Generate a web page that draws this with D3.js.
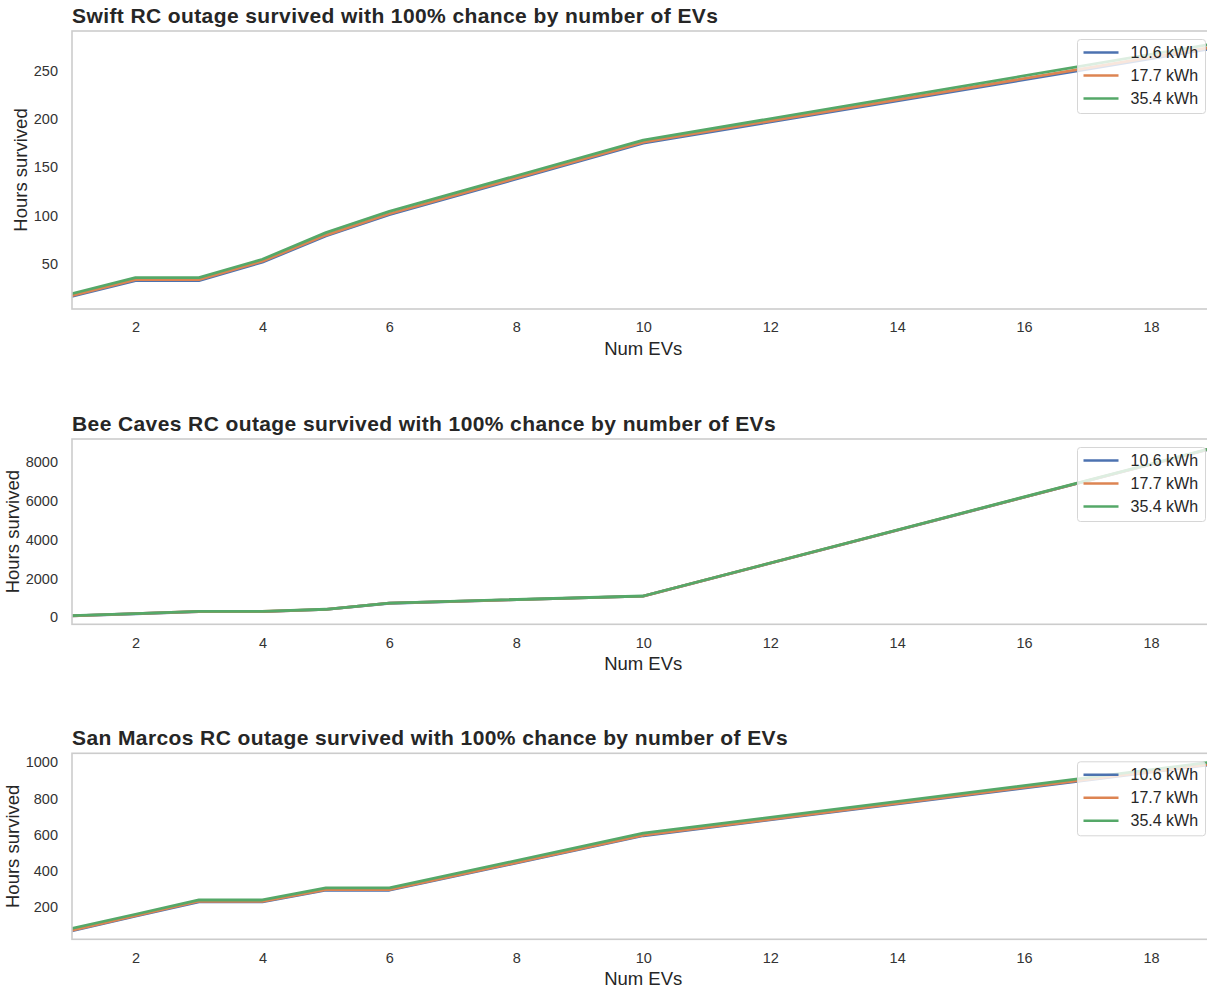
<!DOCTYPE html>
<html>
<head>
<meta charset="utf-8">
<script src="https://cdn.jsdelivr.net/npm/d3@7"></script>
<style>
  html, body { margin: 0; padding: 0; background: #ffffff; }
  svg { display: block; font-family: "Liberation Sans", Arial, sans-serif; }
</style>
</head>
<body>
<svg id="chart" width="1207" height="993"></svg>
<script>
// Number of EVs at which each outage simulation was evaluated
const evCounts = [1, 2, 3, 4, 5, 6, 10, 19];
const batteryLabels = ["10.6 kWh", "17.7 kWh", "35.4 kWh"];
const seriesColors = ["#4c72b0", "#dd8452", "#55a868"];

// Hours survived (100% chance) — Swift RC
const swift106 = [16.7, 33, 33, 52, 79, 101, 175, 273];
const swift177 = [17.5, 34, 34, 53, 80, 102, 176, 274.5];
const swift354 = [19.5, 36, 36, 55, 82.5, 104.5, 178, 277.7];

// Hours survived (100% chance) — Bee Caves RC
const beeCaves106 = [74, 185, 295, 295, 405, 725, 1090, 8745];
const beeCaves177 = [78, 190, 300, 300, 410, 730, 1095, 8755];
const beeCaves354 = [85, 195, 305, 305, 415, 735, 1100, 8769];

// Hours survived (100% chance) — San Marcos RC
const sanMarcos106 = [66, 147, 227, 227, 291, 291, 593, 990];
const sanMarcos177 = [69, 150, 230, 230, 294, 294, 596, 993];
const sanMarcos354 = [80, 158, 237, 237, 304, 304, 607, 1003];

// Axis ticks
const xTicks = [2, 4, 6, 8, 10, 12, 14, 16, 18];
const swiftTicks = [50, 100, 150, 200, 250];
const beeCavesTicks = [0, 2000, 4000, 6000, 8000];
const sanMarcosTicks = [200, 400, 600, 800, 1000];

const panels = [
  { title: "Swift RC outage survived with 100% chance by number of EVs",
    series: [swift106, swift177, swift354], ticks: swiftTicks, top: 31, bottom: 309 },
  { title: "Bee Caves RC outage survived with 100% chance by number of EVs",
    series: [beeCaves106, beeCaves177, beeCaves354], ticks: beeCavesTicks, top: 439, bottom: 624.3 },
  { title: "San Marcos RC outage survived with 100% chance by number of EVs",
    series: [sanMarcos106, sanMarcos177, sanMarcos354], ticks: sanMarcosTicks, top: 753.3, bottom: 939.3 }
];

const svg = d3.select("#chart");
svg.append("rect").attr("width", 1207).attr("height", 993).attr("fill", "#ffffff");

const left = 72, right = 1214.5;
const x = d3.scaleLinear().domain([1, 19]).range([left, right]);

const spineColor = "#cccccc";
const textColor = "#262626";
const tickColor = "#333333";
const tickFont = 14.5;

panels.forEach((p, pi) => {
  const all = p.series.flat();
  const lo = d3.min(all), hi = d3.max(all);
  const pad = (hi - lo) * 0.05;
  const y = d3.scaleLinear().domain([lo - pad, hi + pad]).range([p.bottom, p.top]);

  const g = svg.append("g");

  const clipId = "clip" + pi;
  g.append("clipPath").attr("id", clipId)
    .append("rect").attr("x", left).attr("y", p.top)
    .attr("width", right - left).attr("height", p.bottom - p.top);

  // Title
  g.append("text")
    .attr("x", left).attr("y", p.top - 8.5)
    .attr("font-size", 21).attr("font-weight", "bold")
    .attr("letter-spacing", 0.4)
    .attr("fill", textColor)
    .text(p.title);

  // Y ticks (labels only)
  const yAxis = d3.axisLeft(y).tickValues(p.ticks).tickSize(0).tickPadding(14)
    .tickFormat(d3.format("d"));
  const ya = g.append("g").attr("transform", `translate(${left},0)`).call(yAxis);
  ya.select(".domain").remove();
  ya.selectAll("text").attr("font-size", tickFont).attr("fill", tickColor)
    .attr("font-family", "Liberation Sans, Arial, sans-serif");

  // X ticks (labels only)
  const xAxis = d3.axisBottom(x).tickValues(xTicks).tickSize(0).tickPadding(13)
    .tickFormat(d3.format("d"));
  const xa = g.append("g").attr("transform", `translate(0,${p.bottom})`).call(xAxis);
  xa.select(".domain").remove();
  xa.selectAll("text").attr("font-size", tickFont).attr("fill", tickColor)
    .attr("font-family", "Liberation Sans, Arial, sans-serif");

  // Axis labels; the y label sits clear of the widest tick label
  const maxDigits = d3.max(p.ticks, t => String(t).length);
  const yLabelX = left - 14 - maxDigits * tickFont * 0.556 - 7;
  g.append("text")
    .attr("x", (left + right) / 2).attr("y", p.bottom + 46)
    .attr("text-anchor", "middle").attr("font-size", 18.5).attr("fill", textColor)
    .text("Num EVs");
  g.append("text")
    .attr("transform", `translate(${yLabelX},${(p.top + p.bottom) / 2}) rotate(-90)`)
    .attr("text-anchor", "middle").attr("font-size", 18.5).attr("fill", textColor)
    .text("Hours survived");

  // Lines
  const line = d3.line().x((d, i) => x(evCounts[i])).y(d => y(d));
  const lines = g.append("g").attr("clip-path", `url(#${clipId})`);
  p.series.forEach((s, si) => {
    lines.append("path").datum(s)
      .attr("d", line)
      .attr("fill", "none")
      .attr("stroke", seriesColors[si])
      .attr("stroke-width", 2.8)
      .attr("stroke-linejoin", "round")
      .attr("stroke-linecap", "square");
  });

  // Spines (left, top, bottom; right lies beyond the page edge)
  g.append("rect")
    .attr("x", left).attr("y", p.top)
    .attr("width", right - left).attr("height", p.bottom - p.top)
    .attr("fill", "none").attr("stroke", spineColor).attr("stroke-width", 1.6);

  // Legend
  const lgX = 1077.5, lgY = p.top + 8.5, lgW = 128, lgH = 74;
  const lg = g.append("g");
  lg.append("rect")
    .attr("x", lgX).attr("y", lgY).attr("width", lgW).attr("height", lgH)
    .attr("rx", 3).attr("fill", "#ffffff").attr("fill-opacity", 0.8)
    .attr("stroke", "#d6d6d6").attr("stroke-width", 1);
  batteryLabels.forEach((lab, li) => {
    const cy = lgY + 13 + li * 23;
    lg.append("line")
      .attr("x1", lgX + 6).attr("x2", lgX + 41)
      .attr("y1", cy).attr("y2", cy)
      .attr("stroke", seriesColors[li]).attr("stroke-width", 2.6);
    lg.append("text")
      .attr("x", lgX + 53).attr("y", cy + 5.6)
      .attr("font-size", 16).attr("fill", textColor)
      .text(lab);
  });
});
</script>
</body>
</html>
